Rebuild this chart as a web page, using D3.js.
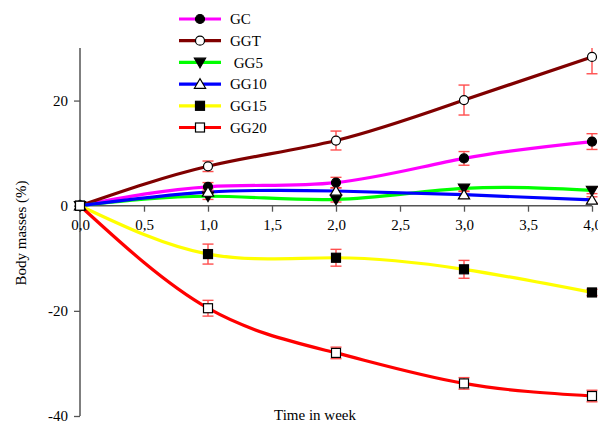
<!DOCTYPE html>
<html>
<head>
<meta charset="utf-8">
<script src="https://cdn.jsdelivr.net/npm/d3@7"></script>
<style>
  html, body { margin: 0; padding: 0; background: #fff; }
  svg { display: block; }
  text { font-family: "Liberation Serif", "Times New Roman", serif; fill: #000; }
</style>
</head>
<body>
<svg id="chart" width="598" height="424"></svg>
<script>
// Weeks of treatment
const weeks = [0, 1, 2, 3, 4];

// Body mass change (%) per group, mean values
const gc   = [0, 3.6, 4.4, 9.0, 12.2];
const ggt  = [0, 7.5, 12.4, 20.1, 28.3];
const gg5  = [0, 1.8, 1.2, 3.3, 2.9];
const gg10 = [0, 2.6, 2.8, 2.1, 1.1];
const gg15 = [0, -9.2, -9.9, -12.1, -16.5];
const gg20 = [0, -19.5, -28.0, -33.8, -36.2];

// Standard errors
const gcErr   = [0, 0.8, 1.0, 1.3, 1.5];
const ggtErr  = [0, 1.0, 1.8, 2.85, 3.2];
const gg5Err  = [0, 0.6, 0.5, 0.6, 0.6];
const gg10Err = [0, 0.6, 0.6, 0.7, 0.6];
const gg15Err = [0, 1.9, 1.6, 1.7, 0.6];
const gg20Err = [0, 1.5, 1.1, 1.1, 1.1];

const groupNames = ["GC", "GGT", " GG5", "GG10", "GG15", "GG20"];
const xTicks = [0, 0.5, 1, 1.5, 2, 2.5, 3, 3.5, 4];
const yTicks = [20, 0, -20, -40];

const series = [
  { name: groupNames[0], values: gc,   err: gcErr,   color: "#ff00ff", shape: "circle",   fill: "#000" },
  { name: groupNames[1], values: ggt,  err: ggtErr,  color: "#800000", shape: "circle",   fill: "#fff" },
  { name: groupNames[2], values: gg5,  err: gg5Err,  color: "#00ff00", shape: "triDown",  fill: "#000" },
  { name: groupNames[3], values: gg10, err: gg10Err, color: "#0000ff", shape: "triUp",    fill: "#fff" },
  { name: groupNames[4], values: gg15, err: gg15Err, color: "#ffff00", shape: "square",   fill: "#000" },
  { name: groupNames[5], values: gg20, err: gg20Err, color: "#ff0000", shape: "square",   fill: "#fff" }
];

const svg = d3.select("#chart");
const plotLeft = 80, plotRight = 592, plotTop = 48, plotBottom = 416;

const x = d3.scaleLinear().domain([0, 4]).range([plotLeft, plotRight]);
const y = d3.scaleLinear().domain([-40, 30]).range([plotBottom, plotTop]);

const axisColor = "#555";

// Y axis (left)
const yAxis = svg.append("g")
  .attr("transform", `translate(${plotLeft},0)`)
  .call(d3.axisLeft(y).tickValues(yTicks).tickSize(6).tickPadding(6)
    .tickFormat(d => d < 0 ? "-" + Math.abs(d) : String(d)));
yAxis.select(".domain").attr("stroke", axisColor).attr("stroke-width", 1.5)
  .attr("d", `M0,${plotTop}V${plotBottom}`);
yAxis.selectAll(".tick line").attr("stroke", axisColor).attr("stroke-width", 1.3);
yAxis.selectAll(".tick text").style("font-size", "15px")
  .style("font-family", "Liberation Serif, serif");

// X axis at zero
const xAxis = svg.append("g")
  .attr("transform", `translate(0,${y(0)})`)
  .call(d3.axisBottom(x).tickValues(xTicks).tickSize(6).tickPadding(8)
    .tickFormat(d => d3.format(".1f")(d).replace(".", ",")));
xAxis.select(".domain").attr("stroke", axisColor).attr("stroke-width", 1.5)
  .attr("d", `M${plotLeft},0H${plotRight}`);
xAxis.selectAll(".tick line").attr("stroke", axisColor).attr("stroke-width", 1.3);
xAxis.selectAll(".tick text").style("font-size", "15px")
  .style("font-family", "Liberation Serif, serif");

// Axis titles
svg.append("text")
  .attr("x", 315).attr("y", 420)
  .attr("text-anchor", "middle")
  .style("font-size", "15px")
  .text("Time in week");

svg.append("text")
  .attr("transform", "translate(26,233) rotate(-90)")
  .attr("text-anchor", "middle")
  .style("font-size", "15px")
  .text("Body masses (%)");

svg.append("defs").append("clipPath").attr("id", "plotClip")
  .append("rect").attr("x", 0).attr("y", plotTop).attr("width", 598).attr("height", plotBottom - plotTop + 10);

const plot = svg.append("g").attr("clip-path", "url(#plotClip)");

const line = d3.line()
  .x((d, i) => x(weeks[i]))
  .y(d => y(d))
  .curve(d3.curveNatural);

// Smoothed group curves
series.forEach(s => {
  plot.append("path")
    .attr("d", line(s.values))
    .attr("fill", "none")
    .attr("stroke", s.color)
    .attr("stroke-width", 3.2);
});

// Error bars
const cap = 5.5;
series.forEach(s => {
  s.values.forEach((v, i) => {
    if (!s.err[i]) return;
    const cx = x(weeks[i]);
    const y1 = y(v + s.err[i]), y2 = y(v - s.err[i]);
    const g = plot.append("g").attr("stroke", "#ff3030").attr("stroke-width", 1.4).attr("opacity", 0.85);
    g.append("line").attr("x1", cx).attr("x2", cx).attr("y1", y1).attr("y2", y2);
    g.append("line").attr("x1", cx - cap).attr("x2", cx + cap).attr("y1", y1).attr("y2", y1);
    g.append("line").attr("x1", cx - cap).attr("x2", cx + cap).attr("y1", y2).attr("y2", y2);
  });
});

// Marker drawing
function marker(g, shape, fill, cx, cy) {
  const stroke = "#000";
  if (shape === "circle") {
    g.append("circle").attr("cx", cx).attr("cy", cy).attr("r", 4.5)
      .attr("fill", fill).attr("stroke", stroke).attr("stroke-width", 1.2);
  } else if (shape === "square") {
    g.append("rect").attr("x", cx - 4.5).attr("y", cy - 4.5).attr("width", 9).attr("height", 9)
      .attr("fill", fill).attr("stroke", stroke).attr("stroke-width", 1.2);
  } else if (shape === "triDown") {
    const s = 5.6;
    g.append("path")
      .attr("d", `M${cx - s},${cy - s * 0.75}L${cx + s},${cy - s * 0.75}L${cx},${cy + s * 0.95}Z`)
      .attr("fill", fill).attr("stroke", stroke).attr("stroke-width", 1.2);
  } else if (shape === "triUp") {
    const s = 5.6;
    g.append("path")
      .attr("d", `M${cx - s},${cy + s * 0.75}L${cx + s},${cy + s * 0.75}L${cx},${cy - s * 0.95}Z`)
      .attr("fill", fill).attr("stroke", stroke).attr("stroke-width", 1.2);
  }
}

const markers = svg.append("g");
series.forEach(s => {
  s.values.forEach((v, i) => marker(markers, s.shape, s.fill, x(weeks[i]), y(v)));
});

// Legend
const legend = svg.append("g");
series.forEach((s, i) => {
  const ly = 19 + i * 21.7;
  legend.append("line")
    .attr("x1", 179).attr("x2", 221).attr("y1", ly).attr("y2", ly)
    .attr("stroke", s.color).attr("stroke-width", 3.2);
  marker(legend, s.shape, s.fill, 200, ly);
  legend.append("text")
    .attr("x", 230).attr("y", ly).attr("dy", "0.35em")
    .style("font-size", "15px")
    .style("white-space", "pre")
    .text(s.name);
});
</script>
</body>
</html>
